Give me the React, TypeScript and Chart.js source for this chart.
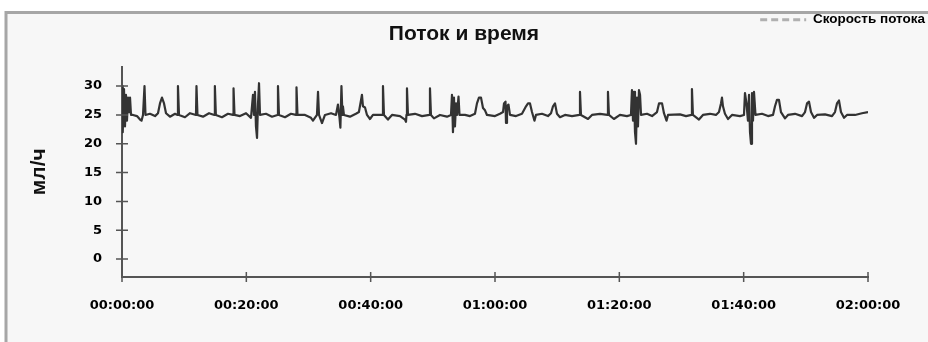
import { useEffect, useRef } from 'react';
import { Chart, registerables } from 'chart.js';

Chart.register(...registerables);

const chartTitle = 'Поток и время';
const seriesLabel = 'Скорость потока';
const yAxisTitle = 'мл/ч';
const xTickMinutes = [0, 20, 40, 60, 80, 100, 120];
const xTickLabels = ['00:00:00', '00:20:00', '00:40:00', '01:00:00', '01:20:00', '01:40:00', '02:00:00'];
const yTickValues = [0, 5, 10, 15, 20, 25, 30];

const timeMinutes = [
  0, 0.08, 0.16, 0.32, 0.48, 0.64, 0.8, 0.97, 1.13, 1.29, 1.45,
  1.77, 2.41, 2.9, 3.14, 3.38, 3.62, 3.78,
  4.5, 5.31, 5.79, 6.11, 6.43, 6.76, 7.08, 7.72, 8.53, 8.93, 9.0, 9.17,
  10.13, 10.94, 11.9, 11.98, 12.14, 13.03, 14.0, 14.86, 14.94, 15.1,
  16.08, 17.05, 17.86, 17.94, 18.1, 18.98, 19.95, 20.75,
  21.07, 21.23, 21.39, 21.55, 21.72, 21.88, 22.04, 22.2,
  23.16, 24.13, 25.01, 25.09, 25.25, 26.22, 27.18, 27.99, 28.07, 28.23,
  29.44, 30.4, 30.72, 31.36, 31.53, 31.69, 32.17, 32.65, 33.62, 34.42, 34.74, 34.99,
  35.13, 35.3, 35.46, 35.54, 35.7, 36.67, 37.63, 38.11, 38.44, 38.6, 38.76, 39.09, 39.41, 39.89, 40.37,
  41.18, 41.9, 41.98, 42.14, 42.78, 43.43, 44.72, 45.52, 45.68, 45.76, 45.84, 46.0,
  47.13, 48.26, 49.46, 49.54, 49.7, 50.18, 51.15, 52.28,
  52.92, 53.08, 53.24, 53.4, 53.56, 53.73, 53.89, 54.13, 54.29,
  55.17, 55.98, 56.78, 57.1, 57.42, 57.75, 58.07, 58.39, 58.71, 60.0, 60.8,
  61.29, 61.45, 61.69, 61.77, 61.93, 62.17, 62.41, 63.38, 64.34, 64.99, 65.31, 65.63, 65.95, 66.35, 66.59,
  67.56, 68.52, 69.01, 69.33, 69.65, 69.97, 70.45, 71.26, 72.39, 73.59, 73.67, 73.83,
  74.96, 75.6, 76.89, 78.09, 78.17, 78.33, 79.13, 80.1, 81.22,
  81.87, 82.03, 82.2, 82.36, 82.52, 82.68, 82.84, 83.0, 83.16, 83.33, 83.49,
  84.45, 85.26, 86.06, 86.38, 86.87, 87.18, 87.59, 87.83, 89.76, 90.73, 91.6, 91.68, 91.84,
  92.81, 93.45, 94.58, 95.54, 96.03, 96.35, 96.51, 96.67, 96.99, 97.48, 98.12, 99.41,
  100.05, 100.21, 100.45, 100.69, 100.86, 101.02, 101.18, 101.34, 101.5, 101.66, 101.9,
  102.95, 103.92, 104.72, 105.04, 105.36, 105.68, 106.0, 106.65, 107.13, 108.26,
  109.39, 109.87, 110.19, 110.51, 110.83, 111.31, 111.8, 113.08,
  114.21, 114.69, 115.01, 115.33, 115.65, 116.14, 116.62, 117.91, 119.03, 120,
];

const flowRate = [
  25, 30, 22, 29.5, 23, 28.5, 24, 28, 25.5, 28, 25,
  25, 24.8, 24.2, 24.0, 25, 30, 25,
  25.2, 24.8, 25.3, 27, 28, 27, 25.3, 24.7, 25.2, 25, 30, 25,
  24.6, 25.3, 25, 30, 25, 24.7, 25.3, 25, 30, 25,
  24.6, 25.2, 25, 29.6, 25, 24.8, 25.3, 24.5,
  28.5, 25, 29, 23, 21, 27, 30.5, 25,
  25.2, 24.7, 25, 30, 25, 24.6, 25.2, 25, 29.8, 25,
  25, 24.5, 24.0, 25, 29, 25, 23.6, 25, 25.3, 25, 26.8, 24.5,
  22.8, 30, 25, 26.5, 25, 24.7, 25.2, 25.5, 27.5, 28.5, 26.5, 26.3, 25, 24.3, 25,
  25, 25, 30, 25, 24.2, 25, 24.8, 24.2, 23.8, 25, 29.6, 25,
  25.2, 24.8, 25, 29.6, 25, 24.4, 25, 24.7,
  25, 28.5, 22, 28, 23, 27, 25, 28.2, 25,
  25, 24.8, 25.2, 27, 28, 28, 26.2, 25.8, 25, 24.8, 25.2,
  25.5, 27, 27.3, 23.6, 26.5, 26.8, 25, 24.8, 25.2, 26.5, 27, 27, 25.5, 24.0, 25,
  25.2, 24.8, 25.3, 26.5, 27, 25.2, 24.6, 25, 24.8, 25, 29, 25,
  24.3, 25, 25.2, 25, 29, 25, 24.3, 25, 24.8,
  25, 29.3, 24, 29, 22, 20, 28, 23, 29.3, 28.5, 25,
  25.2, 24.8, 25.5, 27, 27, 25.3, 24.0, 25, 25.1, 24.8, 25, 29.5, 25,
  24.2, 25, 25.2, 25, 25.5, 27, 28, 26.5, 25.2, 24.3, 25, 24.8,
  25, 28.8, 27, 24, 28.5, 22, 20, 28.8, 24, 29, 25,
  25.2, 24.8, 25, 26.5, 27.6, 27.6, 25.5, 24.4, 25, 25.2,
  24.8, 25.5, 27, 27.3, 25.5, 24.5, 25, 25.1,
  24.8, 25.5, 27, 27.5, 25.5, 24.5, 25, 25, 25.3, 25.5,
];

const labelFont = { family: 'DejaVu Sans', size: 13, weight: 'bold' as const };

const framePlugin = {
  id: 'frame',
  beforeDraw(chart: any) {
    const { ctx, width, height } = chart;
    ctx.save();
    ctx.fillStyle = '#ffffff';
    ctx.fillRect(0, 0, width, height);
    ctx.fillStyle = '#f7f7f7';
    ctx.fillRect(7, 13, width - 7, height - 13);
    ctx.strokeStyle = '#a6a6a6';
    ctx.lineWidth = 3;
    ctx.beginPath();
    ctx.moveTo(6, height);
    ctx.lineTo(6, 12.5);
    ctx.lineTo(width, 12.5);
    ctx.stroke();
    ctx.restore();
  },
  afterDraw(chart: any) {
    const { ctx } = chart;
    const xs = chart.scales.x;
    const ys = chart.scales.y;
    ctx.save();
    ctx.strokeStyle = '#555555';
    ctx.lineWidth = 1.5;
    ctx.beginPath();
    for (const v of yTickValues) {
      const py = ys.getPixelForValue(v);
      ctx.moveTo(xs.left - 6, py);
      ctx.lineTo(xs.left + 6, py);
    }
    for (const m of xTickMinutes) {
      const px = xs.getPixelForValue(m);
      ctx.moveTo(px, ys.bottom - 5);
      ctx.lineTo(px, ys.bottom + 5);
    }
    ctx.stroke();
    ctx.restore();
  },
};

export default function App() {
  const canvasRef = useRef<HTMLCanvasElement | null>(null);

  useEffect(() => {
    const canvas = canvasRef.current;
    if (!canvas) return;
    const chart = new Chart(canvas, {
      type: 'line',
      data: {
        datasets: [
          {
            label: seriesLabel,
            data: timeMinutes.map((t, i) => ({ x: t, y: flowRate[i] })),
            borderColor: '#333333',
            borderWidth: 2.2,
            pointRadius: 0,
            tension: 0,
            borderJoinStyle: 'round',
            fill: false,
          },
        ],
      },
      options: {
        responsive: false,
        animation: false,
        devicePixelRatio: 1,
        layout: { padding: { left: 0, right: 0, top: 10, bottom: 0 } },
        plugins: {
          legend: {
            position: 'top',
            align: 'end',
            weight: 3000,
            labels: {
              usePointStyle: true,
              pointStyleWidth: 46,
              padding: 3,
              color: '#111111',
              font: { family: 'Liberation Sans', size: 13.5, weight: 'bold', lineHeight: 1 },
              generateLabels: () => [
                {
                  text: seriesLabel,
                  fillStyle: '#b0b0b0',
                  strokeStyle: '#b0b0b0',
                  lineWidth: 3,
                  lineDash: [7, 4],
                  pointStyle: 'line',
                  hidden: false,
                  datasetIndex: 0,
                } as any,
              ],
            },
          },
          title: {
            display: true,
            text: chartTitle,
            color: '#111111',
            font: { family: 'Liberation Sans', size: 21, weight: 'bold', lineHeight: 1 },
            padding: { top: -13, bottom: 22 },
          },
          tooltip: { enabled: false },
        },
        scales: {
          x: {
            type: 'linear',
            min: 0,
            max: 120,
            afterFit: (s: any) => {
              s.height = 65;
            },
            afterBuildTicks: (s: any) => {
              s.ticks = xTickMinutes.map((v) => ({ value: v }));
            },
            ticks: {
              callback: (_v: any, i: number) => xTickLabels[i],
              padding: 21,
              color: '#000000',
              font: labelFont,
              maxRotation: 0,
              autoSkip: false,
            },
            grid: { display: false, drawTicks: false },
            border: { display: true, color: '#555555', width: 2 },
          },
          y: {
            type: 'linear',
            min: -3.1,
            max: 33.4,
            afterFit: (s: any) => {
              s.width = 122;
            },
            afterBuildTicks: (s: any) => {
              s.ticks = yTickValues.map((v) => ({ value: v }));
            },
            ticks: { padding: 20, color: '#000000', font: labelFont },
            grid: { display: false, drawTicks: false },
            border: { display: true, color: '#555555', width: 2 },
            title: {
              display: true,
              text: yAxisTitle,
              color: '#111111',
              font: { family: 'Liberation Sans', size: 21, weight: 'bold' },
              padding: { top: 27, bottom: 0 },
            },
          },
          yRight: {
            type: 'linear',
            axis: 'y',
            position: 'right',
            display: true,
            afterFit: (s: any) => {
              s.width = 60;
            },
            ticks: { display: false },
            grid: { display: false, drawTicks: false },
            border: { display: false },
          },
        },
      },
      plugins: [framePlugin],
    } as any);
    return () => chart.destroy();
  }, []);

  return (
    <canvas
      ref={canvasRef}
      width={928}
      height={342}
      style={{ position: 'fixed', left: 0, top: 0, display: 'block', width: 928, height: 342 }}
    />
  );
}
